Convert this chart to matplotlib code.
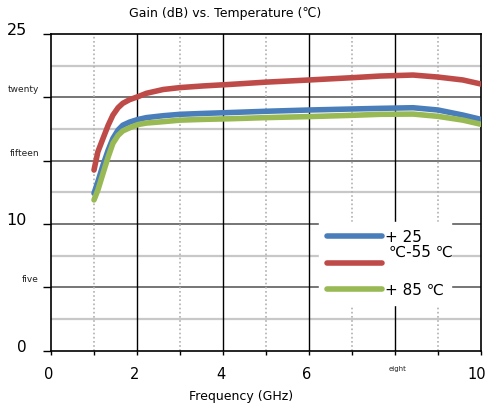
import matplotlib
matplotlib.use("Agg")
import matplotlib.pyplot as plt
from matplotlib.transforms import blended_transform_factory

plt.rcParams['font.family'] = ['DejaVu Sans']

freq = [1.0, 1.09, 1.21, 1.33, 1.44, 1.56, 1.67, 1.83, 2.02, 2.22, 2.61, 3.0,
        3.54, 4.16, 5.0, 6.0, 7.0, 7.65, 8.42, 9.0, 9.58, 10.0]
gain_m55 = [14.26, 15.7, 16.76, 17.8, 18.6, 19.18, 19.53, 19.82, 20.05, 20.32, 20.62, 20.77,
            20.9, 21.02, 21.2, 21.37, 21.55, 21.68, 21.76, 21.6, 21.37, 21.05]
gain_25 = [12.42, 13.34, 14.66, 15.84, 16.76, 17.42, 17.8, 18.05, 18.25, 18.4, 18.55, 18.66,
           18.73, 18.8, 18.9, 19.0, 19.08, 19.13, 19.18, 19.0, 18.6, 18.26]
gain_85 = [11.9, 12.68, 14.0, 15.3, 16.37, 17.0, 17.35, 17.6, 17.85, 17.97, 18.08, 18.2,
           18.26, 18.31, 18.4, 18.48, 18.58, 18.66, 18.68, 18.5, 18.2, 17.87]

series_labels = ["+ 25", "", "+ 85 ℃"]
extra_label = "℃-55 ℃"
colors = ["#4a7ebb", "#be4b48", "#98b954"]

ytick_vals = [0, 5, 10, 15, 20, 25]
ytick_labels = ["0", "five", "10", "fifteen", "twenty", "25"]
ytick_sizes = [11, 6.5, 11.5, 6.5, 6.5, 11.5]
xtick_vals = [0, 2, 4, 6, 8, 10]
xtick_labels = ["0", "2", "4", "6", "eight", "10"]
xtick_sizes = [10.5, 10.5, 10.5, 10.5, 5, 10.5]

W, H = 486, 411
fig = plt.figure(figsize=(W / 100, H / 100), dpi=100)
ax = fig.add_axes([51 / W, 1 - 350.7 / H, 430 / W, (350.7 - 34) / H])
ax.set_xlim(0, 10)
ax.set_ylim(0, 25)

# grid lines
for y in [2.5, 7.5, 12.5, 17.5, 22.5]:
    ax.axhline(y, color="#c8c8c8", lw=1.6, zorder=1)
for y in [5, 10, 15, 20]:
    ax.axhline(y, color="#505050", lw=1.1, zorder=1)
for x in [1, 3, 5, 7, 9]:
    ax.axvline(x, color="#b0b0b0", lw=1.2, ls=(0, (1, 1.5)), zorder=1)
for x in [2, 4, 6, 8]:
    ax.axvline(x, color="black", lw=1.0, zorder=1)

for sp in ax.spines.values():
    sp.set_color("black")
    sp.set_linewidth(1.2)

lines = []
for ys, c, lab in zip([gain_25, gain_m55, gain_85], colors, series_labels):
    ln, = ax.plot(freq, ys, color=c, lw=4, solid_capstyle="round",
                  solid_joinstyle="round", label=lab, zorder=3)
    lines.append(ln)

# ticks
ax.set_yticks(ytick_vals)
ax.set_yticklabels([])
ax.tick_params(axis="y", length=6, width=1, color="black", direction="out")
ax.set_xticks(range(0, 11))
ax.set_xticklabels([])
ax.tick_params(axis="x", length=3, width=1, color="black", direction="out")

ytrans = blended_transform_factory(ax.transAxes, ax.transData)
for v, lab, s in zip(ytick_vals, ytick_labels, ytick_sizes):
    if s > 8:
        ax.text(-0.056, v + 0.25, lab, transform=ytrans, ha="right", va="center",
                fontsize=s, clip_on=False)
    else:
        ax.text(-0.028, v + 0.6, lab, transform=ytrans, ha="right", va="center",
                fontsize=s, color="#222222", clip_on=False)

xtrans = blended_transform_factory(ax.transData, ax.transAxes)
for v, lab, s in zip(xtick_vals, xtick_labels, xtick_sizes):
    if s > 8:
        dx = -0.1 if v == 10 else -0.05
        ax.text(v + dx, -0.076, lab, transform=xtrans, ha="center", va="center",
                fontsize=s, clip_on=False)
    else:
        ax.text(v + 0.05, -0.057, lab, transform=xtrans, ha="center", va="center",
                fontsize=s, color="#222222", clip_on=False)

leg = ax.legend(handles=lines, labels=series_labels, loc="upper left",
                bbox_to_anchor=((319 - 51) / 430, (350.7 - 222) / 316.7),
                frameon=True, fancybox=False, framealpha=1, edgecolor="white",
                fontsize=11, handlelength=3.6, handletextpad=0.2,
                labelspacing=0.75, borderpad=0.5, borderaxespad=0)
leg.set_zorder(5)
ax.text((389 - 51) / 430, (350.7 - 252) / 316.7, extra_label, transform=ax.transAxes,
        fontsize=11, ha="left", va="center", zorder=6)

fig.text(225 / W, 1 - 13 / H, "Gain (dB) vs. Temperature (℃)", ha="center",
         va="center", fontsize=9)
fig.text(241 / W, 1 - 396 / H, "Frequency (GHz)", ha="center", va="center",
         fontsize=9)

fig.savefig("out.png", dpi=100)
